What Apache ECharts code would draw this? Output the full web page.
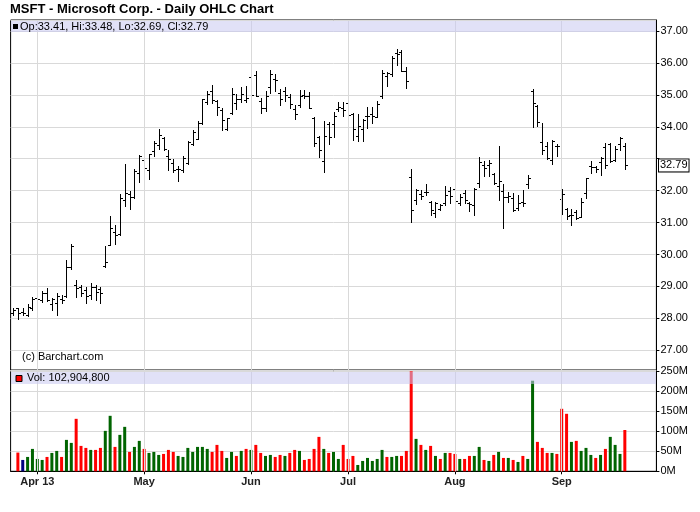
<!DOCTYPE html>
<html><head><meta charset="utf-8">
<script src="https://cdn.jsdelivr.net/npm/echarts@6/dist/echarts.min.js"></script>
<style>html,body{margin:0;padding:0;background:#fff}#c{width:700px;height:512px}</style>
</head><body><div id="c"></div>
<script>
// ---- data (MSFT daily, 2013) ----
const dates = ["03-22","03-25","03-26","03-27","03-28",
"04-01","04-02","04-03","04-04","04-05","04-08","04-09","04-10","04-11","04-12","04-15","04-16","04-17","04-18","04-19","04-22","04-23","04-24","04-25","04-26","04-29","04-30",
"05-01","05-02","05-03","05-06","05-07","05-08","05-09","05-10","05-13","05-14","05-15","05-16","05-17","05-20","05-21","05-22","05-23","05-24","05-28","05-29","05-30","05-31",
"06-03","06-04","06-05","06-06","06-07","06-10","06-11","06-12","06-13","06-14","06-17","06-18","06-19","06-20","06-21","06-24","06-25","06-26","06-27","06-28",
"07-01","07-02","07-03","07-05","07-08","07-09","07-10","07-11","07-12","07-15","07-16","07-17","07-18","07-19","07-22","07-23","07-24","07-25","07-26","07-29","07-30","07-31",
"08-01","08-02","08-05","08-06","08-07","08-08","08-09","08-12","08-13","08-14","08-15","08-16","08-19","08-20","08-21","08-22","08-23","08-26","08-27","08-28","08-29","08-30",
"09-03","09-04","09-05","09-06","09-09","09-10","09-11","09-12","09-13","09-16","09-17","09-18","09-19","09-20"];

const opens = [28.18,28.31,28.19,28.12,28.34,
28.63,28.57,28.78,28.45,28.47,28.61,28.69,29.61,29.04,28.97,28.89,28.73,28.97,28.91,29.64,30.31,30.71,30.63,31.72,31.90,31.80,32.56,
32.95,32.64,33.24,33.42,33.66,33.08,32.87,32.69,32.64,32.87,33.45,33.62,34.11,34.78,35.11,34.80,34.52,33.93,34.43,34.76,34.86,34.83,
35.55,35.62,34.80,34.60,35.25,35.50,35.07,35.12,34.94,34.55,34.68,34.99,34.97,34.26,33.67,32.94,34.08,34.10,34.56,34.60,
34.75,34.41,33.70,33.94,34.33,34.39,34.32,34.98,35.60,35.66,36.30,36.35,35.74,32.43,31.70,31.90,31.95,31.63,31.30,31.44,31.61,32.00,
32.06,31.60,31.93,31.61,31.54,32.24,32.79,32.80,32.53,32.14,31.98,31.80,31.78,31.45,31.65,32.20,35.13,34.64,33.52,33.39,32.95,33.39,
31.75,31.41,31.24,31.32,31.19,31.92,32.78,32.73,32.89,33.38,33.46,32.96,33.46,33.41];

const highs = [28.34,28.34,28.34,28.45,28.66,
28.66,28.85,28.94,28.64,28.78,28.73,29.82,30.32,29.20,29.03,28.97,29.11,29.04,28.97,30.26,31.20,30.92,31.91,32.85,31.98,32.69,33.13,
32.98,33.16,33.55,33.92,33.68,33.27,33.00,32.76,33.09,33.56,33.91,34.17,34.88,35.11,35.30,34.85,34.59,34.29,35.20,35.04,35.26,35.27,
35.61,35.75,34.89,35.12,35.78,35.65,35.18,35.26,35.02,34.68,35.16,35.16,35.10,34.31,33.72,34.19,34.14,34.45,34.79,34.77,
35.01,34.43,34.39,34.24,34.61,34.61,34.82,35.79,35.73,36.23,36.44,36.39,35.86,32.67,32.04,32.03,32.20,31.67,31.65,31.59,32.15,32.10,
32.08,31.90,32.01,31.65,32.09,33.05,32.92,32.97,32.56,33.39,32.20,31.96,31.94,31.85,32.01,32.50,35.19,34.67,34.13,33.52,33.59,33.47,
32.05,31.46,31.43,31.38,31.77,32.40,32.94,32.78,33.06,33.48,33.48,33.41,33.69,33.48];

const lows = [28.10,27.97,28.10,28.08,28.26,
28.37,28.52,28.55,28.26,28.10,28.47,28.68,29.54,28.68,28.70,28.49,28.62,28.59,28.49,29.61,30.29,30.34,30.60,31.52,31.42,31.78,32.27,
32.59,32.38,33.09,33.29,33.27,32.64,32.59,32.30,32.57,32.82,33.44,33.61,34.10,34.70,34.73,34.36,33.89,33.91,34.41,34.55,34.79,34.79,
34.86,34.97,34.43,34.50,35.05,35.12,34.68,34.81,34.58,34.24,34.63,34.90,34.58,33.39,33.04,32.57,33.46,33.67,34.49,34.33,
34.32,33.60,33.57,33.57,33.96,34.11,34.32,34.91,35.27,35.58,35.95,35.76,35.21,31.02,31.57,31.75,31.87,31.23,31.18,31.40,31.56,31.60,
31.57,31.54,31.61,31.36,31.23,32.11,32.46,32.46,32.20,31.70,30.84,31.65,31.36,31.39,31.51,32.09,33.99,34.01,33.16,33.00,32.82,33.07,
31.27,31.11,30.93,31.11,31.17,31.76,32.54,32.57,32.49,32.70,32.89,32.94,33.28,32.69];

const closes = [28.25,28.16,28.16,28.37,28.61,
28.62,28.80,28.56,28.60,28.70,28.59,29.61,30.28,28.94,28.79,28.69,28.97,28.83,28.79,29.76,30.83,30.60,31.76,31.94,31.79,32.61,33.10,
32.72,33.16,33.49,33.75,33.31,32.99,32.66,32.69,33.03,33.53,33.83,34.13,34.87,35.04,34.85,34.61,34.20,34.27,35.02,34.88,35.03,34.90,
34.99,34.98,34.60,34.97,35.65,35.47,34.86,34.99,34.71,34.40,34.97,34.95,34.60,33.49,33.26,33.72,33.67,34.35,34.62,34.54,
34.36,33.94,34.01,34.21,34.33,34.35,34.70,35.69,35.67,36.17,36.27,35.74,35.44,31.40,32.01,31.82,31.96,31.39,31.62,31.54,31.85,31.84,
31.67,31.80,31.70,31.58,32.06,32.89,32.70,32.87,32.23,32.30,31.80,31.82,31.39,31.62,31.61,32.39,34.75,34.15,33.26,33.02,33.55,33.40,
31.88,31.20,31.24,31.15,31.66,32.39,32.74,32.69,33.03,32.80,32.93,33.32,33.64,32.79];

// volume in millions of shares
const volumes = [null,46.7,28.3,35.8,55.8,
30.8,28.3,35.8,45.8,50.8,35.8,78.3,70.8,130.8,63.3,58.3,53.3,53.3,58.3,100.8,138.3,60.8,90.8,110.8,48.3,60.8,75.8,
55.8,45.8,48.3,40.8,43.3,53.3,48.3,38.3,35.8,58.3,48.3,60.8,60.8,55.8,48.3,65.8,50.8,33.3,48.3,38.3,50.8,55.8,
53.3,65.8,45.8,38.3,40.8,35.8,40.8,38.3,45.8,53.3,50.8,28.3,30.8,55.8,85.8,55.8,45.8,48.3,30.8,65.8,
30.8,38.3,15.8,25.8,33.3,25.8,30.8,53.3,35.8,35.8,38.3,38.3,50.8,249.0,80.8,65.8,53.3,63.3,38.3,30.8,45.8,45.8,
43.3,30.8,30.8,38.3,38.3,60.8,28.3,25.8,40.8,48.3,33.3,33.3,28.3,23.3,38.3,30.8,225.8,73.3,58.3,45.8,45.8,43.3,
155.8,143.3,73.3,75.8,50.8,58.3,40.8,33.3,40.8,55.8,85.8,65.8,43.3,102.9];

// close vs previous close: 1 up, -1 down, 0 unchanged
const volDir = [0,-1,0,1,1,
1,1,-1,1,1,-1,1,1,-1,-1,-1,1,-1,-1,1,1,-1,1,1,-1,1,1,
-1,1,1,1,-1,-1,-1,1,1,1,1,1,1,1,-1,-1,-1,1,1,-1,1,-1,
1,-1,-1,1,1,-1,-1,1,-1,-1,1,-1,-1,-1,-1,1,-1,1,1,-1,
-1,-1,1,1,1,1,1,1,-1,1,1,-1,-1,-1,1,-1,1,-1,1,-1,1,-1,
-1,1,-1,-1,1,1,-1,1,-1,1,-1,1,-1,1,-1,1,1,-1,-1,-1,1,-1,
-1,-1,1,-1,1,1,1,-1,1,-1,1,1,1,-1];

const monthTickLabels = ["Apr 13","May","Jun","Jul","Aug","Sep"];
const padSlots = ["p1","p2","p3","p4","p5","p6"];
const volumeHeader = "Vol: 102,904,800";
const titleText = "MSFT - Microsoft Corp. - Daily OHLC Chart";

// ---- build ----
const cats = dates.concat(padSlots);
const monthStarts = [];
for (let i = 1; i < dates.length; i++) if (dates[i].slice(0, 2) !== dates[i - 1].slice(0, 2)) monthStarts.push(i);
const labelAt = {};
monthStarts.forEach((idx, k) => { labelAt[idx] = monthTickLabels[k]; });
const isMonthStart = (idx) => labelAt[idx] !== undefined;

const ohlc = dates.map((d, i) => [i, opens[i], highs[i], lows[i], closes[i]]);
const dirColor = {"1": "#006400", "-1": "#ff0000", "0": "#000080"};
const volData = volumes.map((v, i) => v == null ? '-' : {value: v, itemStyle: {color: dirColor[String(volDir[i])]}});
const last = dates.length - 1;
const lastClose = closes[last];
const priceHeader = "Op:" + opens[last].toFixed(2) + ", Hi:" + highs[last].toFixed(2) + ", Lo:" + lows[last].toFixed(2) + ", Cl:" + lastClose.toFixed(2);

const GRID_L = 10.6, GRID_R = 43.6;
const FONT = "'Liberation Sans', Arial, sans-serif";
const gridLineColor = '#d9d9d9';
const monthLines = monthStarts.map(i => ({xAxis: cats[i]}));

function renderOHLC(params, api) {
  const idx = api.value(0);
  const o = api.coord([idx, api.value(1)]);
  const h = api.coord([idx, api.value(2)]);
  const l = api.coord([idx, api.value(3)]);
  const c = api.coord([idx, api.value(4)]);
  const x = Math.round(o[0]) + 0.5;
  const yo = Math.round(o[1]) + 0.5, yc = Math.round(c[1]) + 0.5;
  const st = {stroke: '#000', lineWidth: 1};
  return {type: 'group', children: [
    {type: 'line', shape: {x1: x, y1: Math.round(h[1]), x2: x, y2: Math.round(l[1]) + 1}, style: st},
    {type: 'line', shape: {x1: x - 2.5, y1: yo, x2: x - 0.5, y2: yo}, style: st},
    {type: 'line', shape: {x1: x + 0.5, y1: yc, x2: x + 2.5, y2: yc}, style: st}
  ]};
}

const chart = echarts.init(document.getElementById('c'), null, {renderer: 'canvas'});
chart.setOption({
  animation: false,
  backgroundColor: '#fff',
  textStyle: {fontFamily: FONT},
  grid: [
    {left: GRID_L, right: GRID_R, top: 20, height: 350, show: true, borderColor: '#000', borderWidth: 1, backgroundColor: 'transparent'},
    {left: GRID_L, right: GRID_R, top: 371, height: 100.3, show: true, borderColor: '#000', borderWidth: 1, backgroundColor: 'transparent'}
  ],
  xAxis: [
    {type: 'category', gridIndex: 0, data: cats, boundaryGap: true,
     axisLine: {show: false}, axisTick: {show: false}, axisLabel: {show: false}, splitLine: {show: false}},
    {type: 'category', gridIndex: 1, data: cats, boundaryGap: true,
     axisLine: {show: true, lineStyle: {color: '#000', width: 1}},
     axisTick: {show: true, alignWithLabel: true, interval: (i) => isMonthStart(i), length: 3, lineStyle: {color: '#000'}},
     axisLabel: {show: true, interval: (i) => isMonthStart(i), formatter: (v, i) => labelAt[i] || '',
       fontFamily: FONT, fontSize: 11, fontWeight: 'bold', color: '#222', margin: 5},
     splitLine: {show: false}}
  ],
  yAxis: [
    {type: 'value', gridIndex: 0, position: 'right', min: 26.383, max: 37.345, splitNumber: 10, scale: true,
     axisLine: {show: true, lineStyle: {color: '#000'}},
     axisTick: {show: true, length: 3, lineStyle: {color: '#000'}},
     axisLabel: {show: true, showMinLabel: false, showMaxLabel: false,
       formatter: (v) => Math.abs(v - lastClose) < 0.4 ? '' : v.toFixed(2),
       fontFamily: FONT, fontSize: 11, color: '#000', margin: 4},
     splitLine: {show: true, lineStyle: {color: gridLineColor, width: 1}}},
    {type: 'value', gridIndex: 1, position: 'right', min: 0, max: 250, interval: 50,
     axisLine: {show: true, lineStyle: {color: '#000'}},
     axisTick: {show: true, length: 3, lineStyle: {color: '#000'}},
     axisLabel: {show: true, formatter: (v) => v + 'M', fontFamily: FONT, fontSize: 11, color: '#000', margin: 4},
     splitLine: {show: true, lineStyle: {color: gridLineColor, width: 1}}}
  ],
  series: [
    {type: 'line', xAxisIndex: 0, yAxisIndex: 0, data: closes, symbol: 'none', lineStyle: {opacity: 0}, silent: true, z: 1,
     markLine: {silent: true, symbol: 'none', label: {show: false}, lineStyle: {color: gridLineColor, type: 'solid', width: 1}, data: monthLines}},
    {type: 'line', xAxisIndex: 1, yAxisIndex: 1, data: volumes, symbol: 'none', lineStyle: {opacity: 0}, silent: true, z: 1,
     markLine: {silent: true, symbol: 'none', label: {show: false}, lineStyle: {color: gridLineColor, type: 'solid', width: 1}, data: monthLines}},
    {type: 'custom', xAxisIndex: 0, yAxisIndex: 0, data: ohlc, renderItem: renderOHLC, encode: {x: 0, y: [1, 2, 3, 4]}, z: 3, silent: true},
    {type: 'bar', xAxisIndex: 1, yAxisIndex: 1, data: volData, barWidth: 3, z: 3, silent: true}
  ],
  graphic: [
    {type: 'text', left: 10, top: 3, style: {text: titleText, font: "bold 13px 'Liberation Sans', Arial", fill: '#000'}},
    {type: 'rect', shape: {x: 11, y: 21, width: 645, height: 11}, style: {fill: 'rgba(200,200,240,0.55)'}, z: 50, silent: true},
    {type: 'rect', shape: {x: 13, y: 24, width: 5, height: 5}, style: {fill: '#000'}, z: 51},
    {type: 'text', x: 20, y: 21.5, style: {text: priceHeader, font: "11px 'Liberation Sans', Arial", fill: '#000'}, z: 51},
    {type: 'rect', shape: {x: 11, y: 372, width: 645, height: 12}, style: {fill: 'rgba(200,200,240,0.55)'}, z: 50, silent: true},
    {type: 'rect', shape: {x: 16, y: 375.5, width: 6, height: 6}, style: {fill: '#ff0000', stroke: '#000', lineWidth: 1}, z: 51},
    {type: 'text', x: 27, y: 372.5, style: {text: volumeHeader, font: "11px 'Liberation Sans', Arial", fill: '#000'}, z: 51},
    {type: 'text', x: 22, y: 351, style: {text: "(c) Barchart.com", font: "11px 'Liberation Sans', Arial", fill: '#000'}, z: 51}
  ]
});

// last-close marker on the price axis, positioned through the price scale
const lastY = chart.convertToPixel({yAxisIndex: 0}, lastClose);
chart.setOption({graphic: [{
  id: 'lastClose', type: 'text', x: 659, y: lastY, z: 60,
  style: {text: lastClose.toFixed(2), font: "11px 'Liberation Sans', Arial", fill: '#000',
    verticalAlign: 'middle', backgroundColor: '#fff', borderColor: '#000', borderWidth: 1, padding: [1, 1, 0, 1]}
}]});
</script></body></html>
